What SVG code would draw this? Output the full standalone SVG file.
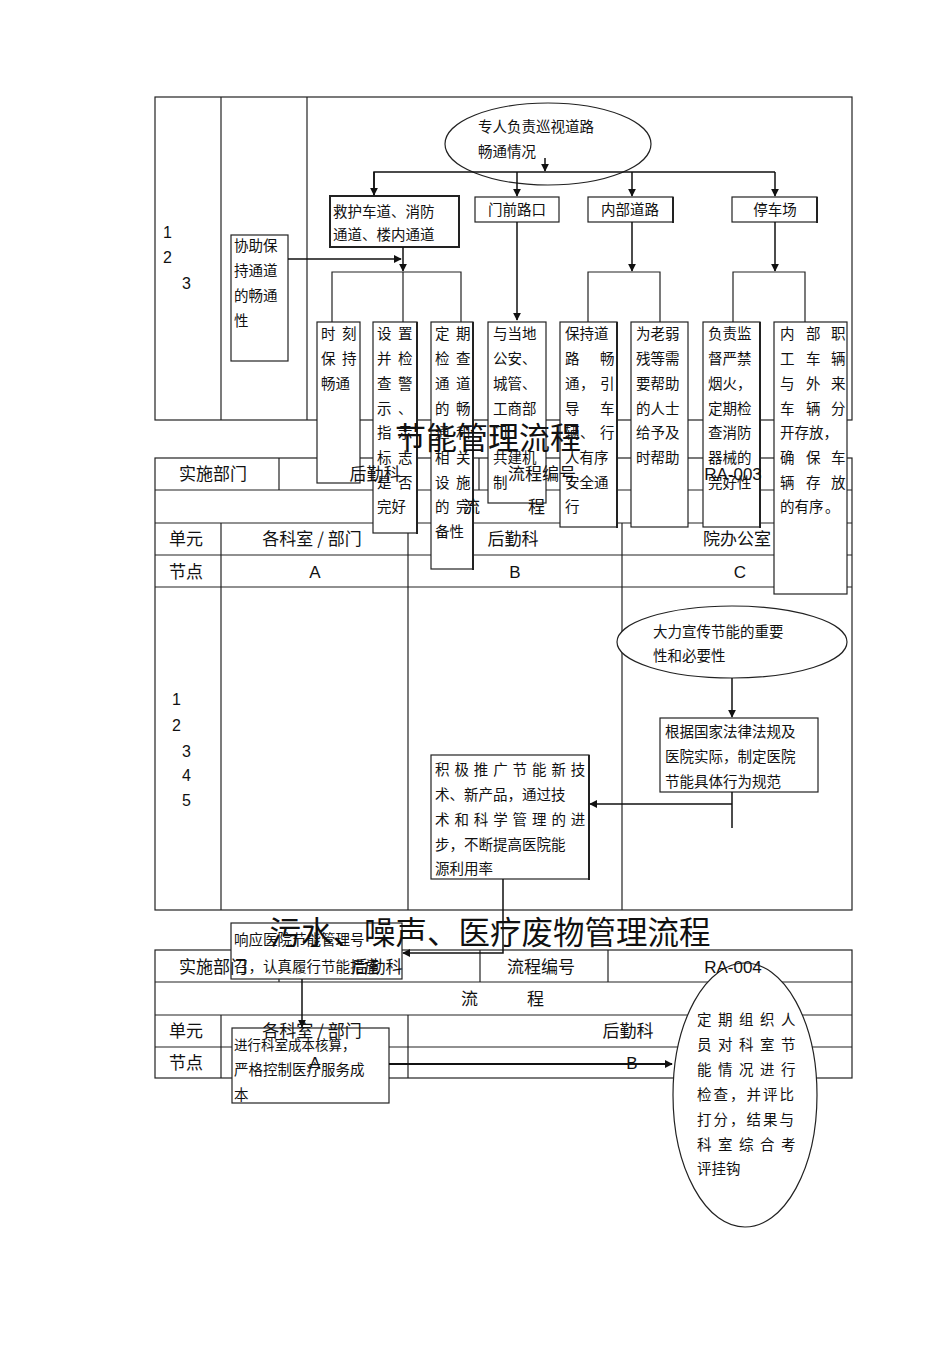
<svg xmlns="http://www.w3.org/2000/svg" width="950" height="1345" viewBox="0 0 950 1345">
<style>
.ln{stroke:#222;stroke-width:1.2;fill:none}
.bx{fill:#fff;stroke:#222;stroke-width:1.2}
.tk{fill:none;stroke:#222;stroke-width:2}
.ar{stroke:#111;stroke-width:1.5;fill:none}
.t{font-family:"Noto Sans CJK SC",sans-serif;font-size:14.5px;fill:#111}
.tb{font-family:"Noto Sans CJK SC",sans-serif;font-size:17px;fill:#111}
.lat{font-family:"Liberation Sans",Arial,sans-serif;font-size:16px;fill:#111}
.ti{font-family:"Noto Sans CJK SC",sans-serif;font-size:31px;fill:#111}
.m{text-anchor:middle}
</style>
<defs>
<marker id="ah" viewBox="0 0 10 10" refX="9" refY="5" markerWidth="8" markerHeight="8" markerUnits="userSpaceOnUse" orient="auto">
<path d="M0 0 L10 5 L0 10 Z" fill="#111"/>
</marker>
</defs>
<rect width="950" height="1345" fill="#fff"/>

<g id="tables">
<!-- top table -->
<rect class="ln" x="155" y="97" width="697" height="323"/>
<line class="ln" x1="221" y1="97" x2="221" y2="420"/>
<line class="ln" x1="307" y1="97" x2="307" y2="420"/>
<!-- energy table -->
<rect class="ln" x="155" y="458" width="697" height="452"/>
<line class="ln" x1="155" y1="490" x2="852" y2="490"/>
<line class="ln" x1="155" y1="523" x2="852" y2="523"/>
<line class="ln" x1="155" y1="555" x2="852" y2="555"/>
<line class="ln" x1="155" y1="587" x2="852" y2="587"/>
<line class="ln" x1="279" y1="458" x2="279" y2="490"/>
<line class="ln" x1="479" y1="458" x2="479" y2="490"/>
<line class="ln" x1="608" y1="458" x2="608" y2="490"/>
<line class="ln" x1="221" y1="523" x2="221" y2="910"/>
<line class="ln" x1="408" y1="523" x2="408" y2="910"/>
<line class="ln" x1="622" y1="523" x2="622" y2="910"/>
<!-- waste table -->
<rect class="ln" x="155" y="950" width="697" height="128"/>
<line class="ln" x1="155" y1="982" x2="852" y2="982"/>
<line class="ln" x1="155" y1="1015" x2="852" y2="1015"/>
<line class="ln" x1="155" y1="1047" x2="852" y2="1047"/>
<line class="ln" x1="279" y1="950" x2="279" y2="982"/>
<line class="ln" x1="480" y1="950" x2="480" y2="982"/>
<line class="ln" x1="608" y1="950" x2="608" y2="982"/>
<line class="ln" x1="221" y1="1015" x2="221" y2="1078"/>
<line class="ln" x1="408" y1="1015" x2="408" y2="1078"/>
</g>

<g id="n-patrol">
<ellipse class="bx" cx="548" cy="144" rx="103" ry="41"/>
<text class="t" x="478" y="132">专人负责巡视道路</text>
<text class="t" x="478" y="157">畅通情况</text>
</g>
<g id="n-assist">
<rect class="bx" x="231" y="235" width="57" height="126"/>
<text class="t" x="234" y="251">协助保</text>
<text class="t" x="234" y="276">持通道</text>
<text class="t" x="234" y="301">的畅通</text>
<text class="t" x="234" y="326">性</text>
</g>
<g id="n-rescue">
<rect class="bx" x="330" y="196" width="129" height="51" style="stroke-width:2"/>
<text class="t" x="333" y="217">救护车道、消防</text>
<text class="t" x="333" y="240">通道、楼内通道</text>
</g>
<g id="n-gate">
<rect class="bx" x="475" y="197" width="84" height="25"/>
<text class="t m" x="517" y="215">门前路口</text>
</g>
<g id="n-inner">
<rect class="bx" x="588" y="197" width="85" height="25"/>
<line class="tk" x1="673" y1="197" x2="673" y2="223"/>
<text class="t m" x="630" y="215">内部道路</text>
</g>
<g id="n-park">
<rect class="bx" x="732" y="197" width="85" height="25"/>
<line class="tk" x1="817" y1="197" x2="817" y2="223"/>
<text class="t m" x="775" y="215">停车场</text>
</g>

<g id="n-keep">
<rect class="bx" x="317" y="322" width="43" height="161"/>
<text class="t" x="321 342" y="339">时刻</text>
<text class="t" x="321 342" y="364">保持</text>
<text class="t" x="321" y="389">畅通</text>
</g>
<g id="n-sign">
<rect class="bx" x="373" y="322" width="44" height="211"/>
<line class="tk" x1="417" y1="322" x2="417" y2="534"/>
<text class="t" x="377 398" y="339">设置</text>
<text class="t" x="377 398" y="364">并检</text>
<text class="t" x="377 398" y="389">查警</text>
<text class="t" x="377 398" y="414">示、</text>
<text class="t" x="377 398" y="438">指示</text>
<text class="t" x="377 398" y="463">标志</text>
<text class="t" x="377 398" y="488">是否</text>
<text class="t" x="377" y="512">完好</text>
</g>
<g id="n-check">
<rect class="bx" x="431" y="322" width="42" height="247"/>
<line class="tk" x1="473" y1="322" x2="473" y2="570"/>
<text class="t" x="435 456" y="339">定期</text>
<text class="t" x="435 456" y="364">检查</text>
<text class="t" x="435 456" y="389">通道</text>
<text class="t" x="435 456" y="414">的畅</text>
<text class="t" x="435 456" y="438">通和</text>
<text class="t" x="435 456" y="463">相关</text>
<text class="t" x="435 456" y="488">设施</text>
<text class="t" x="435 456" y="512">的完</text>
<text class="t" x="435" y="537">备性</text>
</g>
<g id="n-police">
<rect class="bx" x="488" y="322" width="58" height="181"/>
<text class="t" x="493" y="339">与当地</text>
<text class="t" x="493" y="364">公安、</text>
<text class="t" x="493" y="389">城管、</text>
<text class="t" x="493" y="414">工商部</text>
<text class="t" x="493" y="438">门</text>
<text class="t" x="493" y="463">共建机</text>
<text class="t" x="493" y="488">制</text>
</g>
<g id="n-road">
<rect class="bx" x="560" y="322" width="57" height="205"/>
<line class="tk" x1="617" y1="322" x2="617" y2="528"/>
<text class="t" x="565" y="339">保持道</text>
<text class="t" x="565 600" y="364">路畅</text>
<text class="t" x="565 580 600" y="389">通，引</text>
<text class="t" x="565 600" y="414">导车</text>
<text class="t" x="565 580 600" y="438">辆、行</text>
<text class="t" x="565" y="463">人有序</text>
<text class="t" x="565" y="488">安全通</text>
<text class="t" x="565" y="512">行</text>
</g>
<g id="n-help">
<rect class="bx" x="631" y="322" width="57" height="205"/>
<text class="t" x="636" y="339">为老弱</text>
<text class="t" x="636" y="364">残等需</text>
<text class="t" x="636" y="389">要帮助</text>
<text class="t" x="636" y="414">的人士</text>
<text class="t" x="636" y="438">给予及</text>
<text class="t" x="636" y="463">时帮助</text>
</g>
<g id="n-fire">
<rect class="bx" x="703" y="322" width="57" height="205"/>
<line class="tk" x1="760" y1="322" x2="760" y2="528"/>
<text class="t" x="708" y="339">负责监</text>
<text class="t" x="708" y="364">督严禁</text>
<text class="t" x="708" y="389">烟火，</text>
<text class="t" x="708" y="414">定期检</text>
<text class="t" x="708" y="438">查消防</text>
<text class="t" x="708" y="463">器械的</text>
<text class="t" x="708" y="488">完好性</text>
</g>
<g id="n-cars">
<rect class="bx" x="774" y="322" width="73" height="272"/>
<text class="t" x="780 806 831" y="339">内部职</text>
<text class="t" x="780 806 831" y="364">工车辆</text>
<text class="t" x="780 806 831" y="389">与外来</text>
<text class="t" x="780 806 831" y="414">车辆分</text>
<text class="t" x="780" y="438">开存放，</text>
<text class="t" x="780 806 831" y="463">确保车</text>
<text class="t" x="780 806 831" y="488">辆存放</text>
<text class="t" x="780 794.5 809 825" y="512">的有序。</text>
</g>

<g id="n-promote">
<ellipse class="bx" cx="732" cy="642" rx="115" ry="36"/>
<text class="t" x="653" y="637">大力宣传节能的重要</text>
<text class="t" x="653" y="661">性和必要性</text>
</g>
<g id="n-rules">
<rect class="bx" x="660" y="718" width="158" height="74"/>
<text class="t" x="665" y="737">根据国家法律法规及</text>
<text class="t" x="665" y="762">医院实际，制定医院</text>
<text class="t" x="665" y="787">节能具体行为规范</text>
</g>
<g id="n-tech">
<rect class="bx" x="431" y="755" width="158" height="124"/>
<line class="tk" x1="589" y1="755" x2="589" y2="880"/>
<text class="t" x="435 454.4 473.8 493.2 512.6 532 551.4 570.8" y="775">积极推广节能新技</text>
<text class="t" x="435" y="800">术、新产品，通过技</text>
<text class="t" x="435 454.4 473.8 493.2 512.6 532 551.4 570.8" y="825">术和科学管理的进</text>
<text class="t" x="435" y="850">步，不断提高医院能</text>
<text class="t" x="435" y="874">源利用率</text>
</g>
<g id="n-respond">
<rect class="bx" x="231" y="923" width="171" height="56"/>
<text class="t" x="234" y="945">响应医院节能管理号</text>
<text class="t" x="234" y="972">召，认真履行节能措施</text>
</g>
<g id="n-cost">
<rect class="bx" x="232" y="1028" width="157" height="75"/>
<text class="t" x="234" y="1050" style="font-size:13.5px">进行科室成本核算，</text>
<text class="t" x="234" y="1075">严格控制医疗服务成</text>
<text class="t" x="234" y="1100">本</text>
</g>
<g id="n-inspect">
<ellipse class="bx" cx="745" cy="1095" rx="72" ry="132"/>
<text class="t" x="697 718 739 760 781" y="1025">定期组织人</text>
<text class="t" x="697 718 739 760 781" y="1050">员对科室节</text>
<text class="t" x="697 718 739 760 781" y="1075">能情况进行</text>
<text class="t" x="697 713.5 730 746.5 763 779.5" y="1100">检查，并评比</text>
<text class="t" x="697 713.5 730 746.5 763 779.5" y="1125">打分，结果与</text>
<text class="t" x="697 718 739 760 781" y="1150">科室综合考</text>
<text class="t" x="697" y="1174">评挂钩</text>
</g>

<g id="connectors">
<path class="ar" d="M545 158 V171" marker-end="url(#ah)"/>
<path class="ar" d="M374 195 V172 H775"/>
<path class="ar" d="M374 172 V195" marker-end="url(#ah)"/>
<path class="ar" d="M517 172 V196" marker-end="url(#ah)"/>
<path class="ar" d="M632 172 V196" marker-end="url(#ah)"/>
<path class="ar" d="M775 172 V196" marker-end="url(#ah)"/>
<path class="ar" d="M288 259 H401" marker-end="url(#ah)"/>
<path class="ar" d="M403 247 V271" marker-end="url(#ah)"/>
<path class="ln" d="M332 322 V272 H461 V322 M403 272 V322"/>
<path class="ar" d="M517 222 V320" marker-end="url(#ah)"/>
<path class="ar" d="M632 222 V271" marker-end="url(#ah)"/>
<path class="ln" d="M588 322 V272 H660 V322"/>
<path class="ar" d="M775 222 V271" marker-end="url(#ah)"/>
<path class="ln" d="M733 322 V272 H805 V322"/>
<path class="ar" d="M732 678 V717" marker-end="url(#ah)"/>
<path class="ar" d="M732 792 V828"/>
<path class="ar" d="M732 804 H590" marker-end="url(#ah)"/>
<path class="ar" d="M503 879 V953 H403" marker-end="url(#ah)"/>
<path class="ar" d="M302 979 V1027" marker-end="url(#ah)"/>
<path class="ar" d="M389 1064 H672" style="stroke-width:2" marker-end="url(#ah)"/>
</g>

<g id="table-text">
<text class="lat" x="163" y="238">1</text>
<text class="lat" x="163" y="263">2</text>
<text class="lat" x="182" y="289">3</text>
<text class="ti m" x="488" y="449">节能管理流程</text>
<text class="tb m" x="213" y="480">实施部门</text>
<text class="tb m" x="375" y="480">后勤科</text>
<text class="tb m" x="542" y="480">流程编号</text>
<text class="lat m" x="733" y="480" style="font-size:17px">RA-003</text>
<text class="tb" x="463" y="513">流</text>
<text class="tb" x="528" y="513">程</text>
<text class="tb m" x="186" y="545">单元</text>
<text class="tb m" x="312" y="545">各科室 / 部门</text>
<text class="tb m" x="513" y="545">后勤科</text>
<text class="tb m" x="737" y="545">院办公室</text>
<text class="tb m" x="186" y="578">节点</text>
<text class="lat m" x="315" y="578" style="font-size:17px">A</text>
<text class="lat m" x="515" y="578" style="font-size:17px">B</text>
<text class="lat m" x="740" y="578" style="font-size:17px">C</text>
<text class="lat" x="172" y="705">1</text>
<text class="lat" x="172" y="731">2</text>
<text class="lat" x="182" y="757">3</text>
<text class="lat" x="182" y="781">4</text>
<text class="lat" x="182" y="806">5</text>
<text class="ti m" x="490" y="944" style="font-size:31.5px">污水、噪声、医疗废物管理流程</text>
<text class="tb m" x="213" y="973">实施部门</text>
<text class="tb m" x="377" y="973">后勤科</text>
<text class="tb m" x="541" y="973">流程编号</text>
<text class="lat m" x="733" y="973" style="font-size:17px">RA-004</text>
<text class="tb" x="461" y="1005">流</text>
<text class="tb" x="527" y="1005">程</text>
<text class="tb m" x="186" y="1037">单元</text>
<text class="tb m" x="312" y="1037">各科室 / 部门</text>
<text class="tb m" x="628" y="1037">后勤科</text>
<text class="tb m" x="186" y="1069">节点</text>
<text class="lat m" x="315" y="1069" style="font-size:17px">A</text>
<text class="lat m" x="632" y="1069" style="font-size:17px">B</text>
</g>
</svg>
